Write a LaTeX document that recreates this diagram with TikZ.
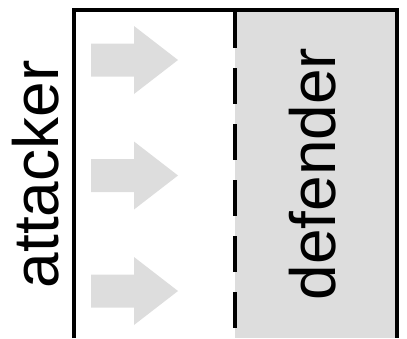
\documentclass[tikz,border=0pt]{standalone}
\usepackage{fontspec}
\setmainfont{Liberation Sans}
\definecolor{zone}{HTML}{DDDDDD}
\tikzset{
  frame/.style={line width=3.4pt},
  divider/.style={line width=3.4pt, dash pattern=on 35.5pt off 20.5pt},
  push/.style={fill=zone, draw=none},
  side/.style={rotate=90, anchor=base, inner sep=0pt, font=\fontsize{64}{64}\selectfont}
}
\begin{document}
\begin{tikzpicture}[x=1pt, y=-1pt]
\useasboundingbox (0,0) rectangle (407,338);
% defender zone
\fill[zone] (235,10) rectangle (397,338);
% arrows
\foreach \c in {60,175.5,291} {
  \fill[push] (91,\c-16.5) -- (134,\c-16.5) -- (134,\c-34) -- (178,\c) -- (134,\c+34) -- (134,\c+16.5) -- (91,\c+16.5) -- cycle;
}
% frame
\draw[frame] (74,338) -- (74,10) -- (397,10) -- (397,338);
% dashed divider
\draw[divider] (235,12) -- (235,338);
% labels
\node[side] (att) at (58,174.5) {attacker};
\node[side] (def) at (335,174) {defender};
\end{tikzpicture}
\end{document}
